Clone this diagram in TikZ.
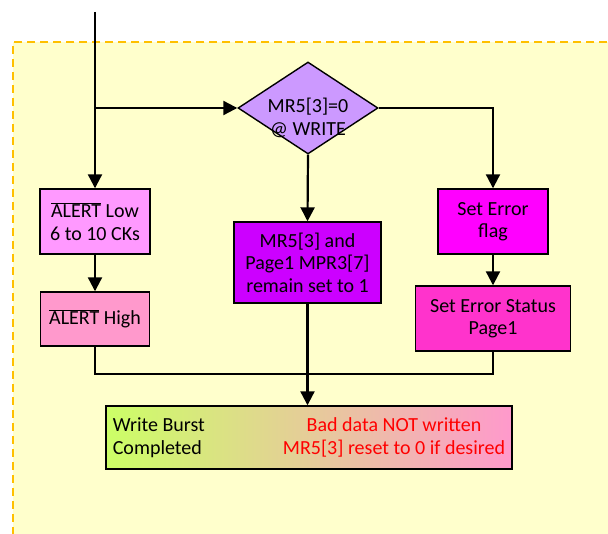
\documentclass[tikz,border=0pt]{standalone}
\usepackage{fontspec}
\setmainfont{Carlito}
\usepackage{xcolor}
\usetikzlibrary{shapes.geometric,arrows.meta,positioning}

\definecolor{bgyellow}{HTML}{FFFFCC}
\definecolor{dashorange}{HTML}{FFC000}
\definecolor{lilac}{HTML}{CC99FF}
\definecolor{lowpink}{HTML}{FF99FF}
\definecolor{highpink}{HTML}{FF99CC}
\definecolor{keeppurple}{HTML}{CC00FF}
\definecolor{flagmag}{HTML}{FF00FF}
\definecolor{statmag}{HTML}{FF33CC}
\definecolor{lime}{HTML}{CCFF66}

\newcommand{\alertn}{$\overline{\mbox{ALERT}}$}

\begin{document}
\begin{tikzpicture}[x=1pt,y=-1pt,>={Triangle[length=14pt,width=14pt]},
                    font=\fontsize{20}{22.5}\selectfont,
                    box/.style={draw,line width=1.4pt,align=center,inner sep=2pt},
                    decision/.style={diamond,draw,line width=1.4pt,fill=lilac,
                                     inner sep=0pt,minimum width=140pt,minimum height=92pt},
                    flow/.style={->,line width=2.2pt},
                    mergeline/.style={line width=1.4pt}]
    \useasboundingbox (0,0) rectangle (608,534);
    % dashed frame
    \fill[bgyellow] (13,42) rectangle (620,545);
    \draw[dashorange,line width=2pt,dash pattern=on 8pt off 5pt] (620,42) -- (13,42) -- (13,545);

    \coordinate (start) at (95,12);
    \node[decision] (dec) at (308,108) {};
    \node[align=center] (dectext) at ([yshift=-10pt]dec.center) {MR5[3]=0\\@ WRITE};

    \node[box,fill=lowpink,minimum width=110pt,minimum height=65pt] (low) at (95,221.5)
        {\alertn{} Low\\6 to 10 CKs};
    \node[box,fill=highpink,minimum width=109pt,minimum height=54pt] (high) at (95,319)
        {\alertn{} High};
    \node[box,fill=keeppurple,minimum width=147pt,minimum height=81pt] (keep) at (307.5,262.5)
        {MR5[3] and\\Page1 MPR3[7]\\remain set to 1};
    \node[box,fill=flagmag,minimum width=110pt,minimum height=65pt] (flag) at (493,221.5)
        {Set Error\\flag};
    \node[box,fill=statmag,minimum width=155pt,minimum height=65pt] (status) at (493,318.5)
        {Set Error Status\\Page1};
    \node[box,left color=lime,right color=highpink,minimum width=406pt,minimum height=63pt] (done) at (309,437.5) {};
    \node[align=left,anchor=west] (donel) at ([xshift=4pt]done.west) {Write Burst\\Completed};
    \node[align=center,text=red] (doner) at ([xshift=85pt]done.center)
        {Bad data NOT written\\MR5[3] reset to 0 if desired};

    \draw[flow] (start) -- (low.north);
    \draw[flow] (start |- dec.west) -- (dec.west);
    \draw[flow] (dec.east) -| (flag.north);
    \draw[flow] (dec.south) -- (keep.north);
    \draw[flow] (low.south) -- (high.north);
    \draw[flow] (flag.south) -- (status.north);
    \coordinate (merge) at (keep.south |- 0,374);
    \draw[mergeline] (high.south) |- (merge) -| (status.south);
    \draw[flow] (keep.south) -- (keep.south |- done.north);
\end{tikzpicture}
\end{document}
